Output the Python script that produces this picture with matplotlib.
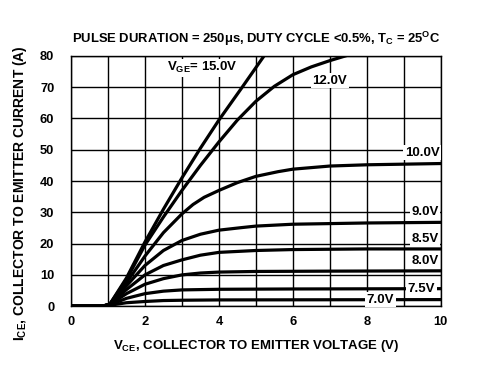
import matplotlib
matplotlib.use("Agg")
import matplotlib.pyplot as plt

plt.rcParams['font.family'] = ['Liberation Sans', 'DejaVu Sans']
plt.rcParams['font.weight'] = 'bold'
plt.rcParams['mathtext.fontset'] = 'custom'
plt.rcParams['mathtext.rm'] = 'Liberation Sans:bold'
plt.rcParams['mathtext.bf'] = 'Liberation Sans:bold'
plt.rcParams['mathtext.default'] = 'bf'

# Output curves I_CE vs V_CE for each gate voltage
vge_labels = ["15.0V", "12.0V", "10.0V", "9.0V", "8.5V", "8.0V", "7.5V", "7.0V"]

v15 = [0, 0.85, 1.05, 1.5, 2.0, 2.5, 3.0, 3.5, 4.0, 4.6, 5.25]
i15 = [0, 0, 0.6, 9, 20.5, 31, 41, 50.5, 59.5, 69.5, 80.5]

v12 = [0, 0.85, 1.05, 1.5, 2.0, 2.5, 3.0, 3.5, 4.0, 4.5, 5.0, 5.5, 6.0, 6.5, 7.0, 7.7]
i12 = [0, 0, 0.6, 8.5, 19.5, 28.5, 37, 45, 52.5, 59.5, 65.5, 70.3, 74, 76.5, 78.5, 81]

v10 = [0, 0.85, 1.05, 1.5, 2.0, 2.5, 3.0, 3.3, 3.6, 4.0, 4.5, 5.0, 5.6, 6.0, 7.0, 8.0, 10.0]
i10 = [0, 0, 0.6, 7.5, 16, 23.5, 29.5, 32.5, 34.8, 37, 39.5, 41.5, 43, 43.8, 44.8, 45.2, 45.6]

v9 = [0, 0.85, 1.05, 1.5, 2.0, 2.5, 3.0, 3.5, 4.0, 4.6, 5.0, 6.0, 8.0, 10.0]
i9 = [0, 0, 0.6, 6.5, 13, 17.8, 21, 23, 24.3, 25.1, 25.6, 26.2, 26.6, 26.8]

v85 = [0, 0.85, 1.05, 1.5, 2.0, 2.5, 3.0, 3.5, 4.0, 5.0, 6.0, 8.0, 10.0]
i85 = [0, 0, 0.6, 5.3, 10, 13, 14.8, 16.3, 17.2, 17.8, 18.1, 18.3, 18.3]

v8 = [0, 0.85, 1.05, 1.5, 2.0, 2.5, 3.0, 3.5, 4.0, 5.0, 7.0, 10.0]
i8 = [0, 0, 0.5, 4, 7, 8.8, 10, 10.6, 10.9, 11.1, 11.2, 11.3]

v75 = [0, 0.85, 1.05, 1.5, 2.0, 2.5, 3.0, 4.0, 6.0, 10.0]
i75 = [0, 0, 0.4, 2.5, 4, 4.8, 5.2, 5.4, 5.5, 5.6]

v7 = [0, 0.85, 1.05, 1.5, 2.0, 2.5, 3.0, 4.0, 10.0]
i7 = [0, 0, 0.3, 1.1, 1.5, 1.8, 1.9, 2.0, 2.1]

curves = [(v15, i15), (v12, i12), (v10, i10), (v9, i9),
          (v85, i85), (v8, i8), (v75, i75), (v7, i7)]

# label anchor positions (data coords)
label_x = [3.55, 7.0, 9.5, 9.58, 9.58, 9.58, 9.48, 8.37]
label_y = [76.2, 72.1, 49.1, 30.1, 21.5, 14.3, 5.6, 2.1]

fig = plt.figure(figsize=(4.86, 3.68), dpi=100)
ax = fig.add_axes([0.146, 0.168, 0.761, 0.680])

ax.set_xlim(0, 10)
ax.set_ylim(0, 80)
ax.set_xticks(range(0, 11, 1))
ax.set_xticklabels([str(v) if v % 2 == 0 else "" for v in range(0, 11)])
ax.set_yticks(range(0, 81, 10))
ax.tick_params(length=0, labelsize=9.3)
ax.tick_params(axis='y', pad=12)
ax.tick_params(axis='x', pad=7)
for lab in ax.get_xticklabels() + ax.get_yticklabels():
    lab.set_fontweight('bold')
ax.grid(True, color='black', linewidth=1.0)
ax.set_axisbelow(True)
for s in ax.spines.values():
    s.set_linewidth(1.0)

for v, i in curves:
    ax.plot(v, i, color='black', linewidth=2.3, solid_joinstyle='round')

box = dict(facecolor='white', edgecolor='none', pad=1.0)
for k, name in enumerate(vge_labels):
    txt = r"V$_{GE}$= " + name if k == 0 else name
    ax.text(label_x[k], label_y[k], txt, fontsize=9.5, fontweight='bold',
            ha='center', va='center', bbox=box, zorder=5)

ax.set_title(r"PULSE DURATION = 250μs, DUTY CYCLE <0.5%, T$_C$ = 25$^O$C",
             fontsize=9.4, fontweight='bold', pad=9)
ax.set_xlabel(r"V$_{CE}$, COLLECTOR TO EMITTER VOLTAGE (V)", fontsize=9.5, fontweight='bold')
ax.set_ylabel(r"I$_{CE}$, COLLECTOR TO EMITTER CURRENT (A)", fontsize=10, fontweight='bold')
ax.yaxis.set_label_coords(-0.114, 0.452)
ax.xaxis.set_label_coords(0.5, -0.128)

fig.savefig("out.png", dpi=100)
